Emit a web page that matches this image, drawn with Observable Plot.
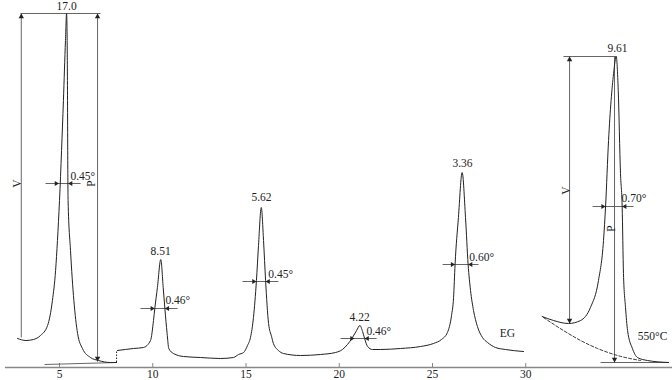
<!DOCTYPE html>
<html><head><meta charset="utf-8">
<script src="https://cdn.jsdelivr.net/npm/d3@7"></script>
<script src="https://cdn.jsdelivr.net/npm/@observablehq/plot@0.6"></script>
<style>body{margin:0;background:#fff} svg text{font-family:"Liberation Serif","Times New Roman",serif !important;}</style>
</head><body><div id="chart"></div>
<script>
// 2θ (degrees) and intensity (arbitrary units)
const egSegA = [[2.75,29],[3.20,27],[3.60,28],[3.98,32],[4.36,42],[4.62,67],[4.79,97],[4.89,127],[5.00,167],[5.11,217],[5.21,267],[5.32,327],[5.38,354],[5.41,327],[5.43,267],[5.44,217],[5.46,167],[5.59,117],[5.77,67],[5.97,34],[6.23,19],[6.66,10],[7.09,7],[7.73,5],[8.06,5]];
const egSegB = [[8.11,17],[8.97,19],[9.50,20],[9.88,27],[10.04,47],[10.11,59],[10.25,80],[10.43,108],[10.56,80],[10.65,59],[10.77,34],[10.86,19],[11.11,14],[11.65,11],[12.56,10],[13.63,9],[14.33,10],[14.60,13],[14.87,15],[15.08,22],[15.24,30],[15.40,50],[15.56,87],[15.67,122],[15.82,160],[15.94,127],[16.05,87],[16.21,44],[16.37,31],[16.47,24],[16.74,17],[17.01,14],[17.92,12],[18.99,13],[19.80,15],[20.17,18],[20.44,23],[20.71,30],[20.93,37],[21.11,42],[21.25,36],[21.36,29],[21.52,21],[21.78,18],[22.21,18],[23.28,19],[24.36,21],[25.05,24],[25.48,28],[25.80,35],[26.02,52],[26.13,70],[26.21,103],[26.39,150],[26.59,195],[26.77,150],[26.91,103],[27.04,77],[27.20,57],[27.41,41],[27.68,30],[27.95,25],[28.38,20],[28.91,18],[29.88,16]];
const heatSeg = [[30.88,51],[31.49,47],[32.29,44],[32.94,47],[33.47,60],[33.90,87],[34.17,127],[34.28,161],[34.44,227],[34.71,294],[34.85,311],[34.96,277],[35.08,194],[35.17,161],[35.24,94],[35.35,60],[35.46,37],[35.72,19],[35.99,10],[36.53,7],[37.66,5]];
const heatBackground = [[30.95,50],[32.02,37],[32.94,27],[33.85,19],[34.92,12],[36.15,7]];
const tickValues = [5, 10, 15, 20, 25, 30];
// annotation lines [x1, y1, x2, y2]
const guideLines = [
  [2.91,354,7.20,354],[2.95,30,2.95,354],[7.04,354,7.04,6],[4.20,3,8.06,5],
  [4.25,184,6.13,184],[9.34,59,11.33,59],[14.81,86,16.74,86],[20.07,29,22.00,29],[25.54,103,27.47,103],
  [32.02,311,34.87,311],[32.35,311,32.35,44],[34.76,311,34.76,5],[34.01,5,37.66,5],[33.58,161,35.78,161]
];
const headsUp = [[2.95,354],[7.04,354],[32.35,311]];
const headsDown = [[7.04,6],[32.35,44],[34.76,5]];
const headsRight = [[4.97,184],[10.11,59],[15.56,86],[20.82,29],[26.21,103],[34.28,161]];
const headsLeft = [[5.46,184],[10.65,59],[16.05,86],[21.36,29],[26.91,103],[35.17,161]];
const peakLabels = [[5.38,361,"17.0"],[10.42,116,"8.51"],[15.83,170,"5.62"],[21.09,50,"4.22"],[26.61,204,"3.36"],[34.92,319,"9.61"]];
const widthLabels = [[6.25,191,"0.45°"],[11.34,67,"0.46°"],[16.86,93,"0.45°"],[22.12,36,"0.46°"],[27.64,110,"0.60°"],[35.80,169,"0.70°"]];
const sideLabels = [[29.02,34,"EG"],[36.80,31,"550°C"]];
const rotLabels = [[2.72,184,"V"],[6.72,184,"P"],[32.16,177,"V"],[34.60,139,"P"]];

const X = d => d[0], Y = d => d[1];
const ink = "#222", guide = "#555";
const font = "Liberation Serif";
const chart = Plot.plot({
  width: 672, height: 380, margin: 0,
  x: {domain: [1.836, 37.869], axis: null},
  y: {domain: [-13, 367], axis: null},
  style: {fontFamily: font, fontSize: "11.5px", background: "#fff", color: ink},
  marks: [
    Plot.ruleY([0], {x1: 2.1, x2: 37.87, stroke: "#888", strokeWidth: 1.3}),
    Plot.ruleX(tickValues, {y1: 0, y2: 4, stroke: "#888"}),
    Plot.text(tickValues, {x: d => d, y: 0, dy: 7, text: d => String(d), fill: ink, fontFamily: font}),
    Plot.link(guideLines, {x1: d => d[0], y1: d => d[1], x2: d => d[2], y2: d => d[3], stroke: guide, strokeWidth: 0.9}),
    Plot.ruleX([8.06], {y1: 5, y2: 17, stroke: ink, strokeDasharray: "1.5,1.5"}),
    Plot.line(heatBackground, {x: X, y: Y, curve: "monotone-x", stroke: ink, strokeDasharray: "3,2", strokeWidth: 0.9}),
    Plot.line(egSegA, {x: X, y: Y, curve: "monotone-x", stroke: ink, strokeWidth: 1}),
    Plot.line(egSegB, {x: X, y: Y, curve: "monotone-x", stroke: ink, strokeWidth: 1}),
    Plot.line(heatSeg, {x: X, y: Y, curve: "monotone-x", stroke: ink, strokeWidth: 1}),
    Plot.dot(headsUp, {x: X, y: Y, symbol: "triangle", r: 2, fill: ink, stroke: null, dy: 3.1}),
    Plot.dot(headsDown, {x: X, y: Y, symbol: "triangle", r: 2, rotate: 180, fill: ink, stroke: null, dy: -3.1}),
    Plot.dot(headsRight, {x: X, y: Y, symbol: "triangle", r: 1.8, rotate: 90, fill: ink, stroke: null, dx: -2.8}),
    Plot.dot(headsLeft, {x: X, y: Y, symbol: "triangle", r: 1.8, rotate: -90, fill: ink, stroke: null, dx: 2.8}),
    Plot.text(peakLabels, {x: X, y: Y, text: d => d[2], fill: ink, fontFamily: font}),
    Plot.text(widthLabels, {x: X, y: Y, text: d => d[2], fill: ink, fontFamily: font}),
    Plot.text(sideLabels, {x: X, y: Y, text: d => d[2], fill: ink, fontFamily: font}),
    Plot.text(rotLabels, {x: X, y: Y, text: d => d[2], rotate: -90, fill: ink, fontFamily: font})
  ]
});
document.getElementById("chart").append(chart);
</script></body></html>
